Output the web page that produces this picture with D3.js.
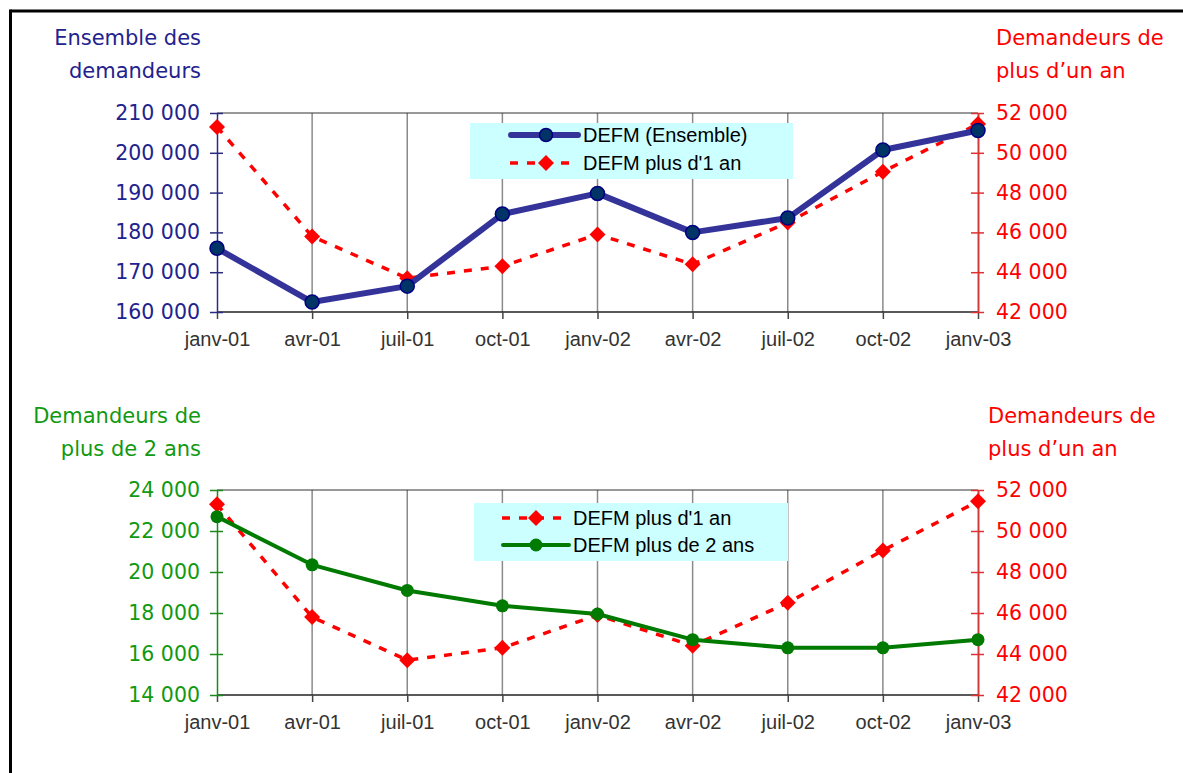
<!DOCTYPE html>
<html>
<head>
<meta charset="utf-8">
<script src="https://cdn.jsdelivr.net/npm/d3@7"></script>
<style>
  html, body { margin: 0; padding: 0; background: #fff; }
  svg { display: block; }
</style>
</head>
<body>
<svg id="chart" width="1183" height="773"></svg>
<script>
// Monthly series, January 2001 to January 2003 (quarterly)
const months = ["janv-01", "avr-01", "juil-01", "oct-01", "janv-02", "avr-02", "juil-02", "oct-02", "janv-03"];
const defmEnsemble = [176000, 162500, 166500, 184600, 189800, 180000, 183600, 200700, 205600];
const defmPlus1An = [51300, 45800, 43700, 44300, 45900, 44400, 46500, 49050, 51450];
const defmPlus2Ans = [22700, 20350, 19100, 18350, 17950, 16700, 16300, 16300, 16700];

const ensembleTicks = [160000, 170000, 180000, 190000, 200000, 210000];
const plus1AnTicks = [42000, 44000, 46000, 48000, 50000, 52000];
const plus2AnsTicks = [14000, 16000, 18000, 20000, 22000, 24000];

const svg = d3.select("#chart");
const fmt = v => d3.format(",")(v).replace(/,/g, " ");

const NAVY = "#333399", NAVY_TXT = "#22228e", RED = "#ff0000", GREEN = "#007a00", GREEN_TXT = "#119911";
const numFont = "'DejaVu Sans', Verdana, sans-serif";
const catFont = "'Liberation Sans', Arial, sans-serif";

// outer frame (top and left edges)
svg.append("line").attr("x1", 10.5).attr("x2", 1183).attr("y1", 11).attr("y2", 11)
  .attr("stroke", "#000").attr("stroke-width", 3);
svg.append("line").attr("x1", 10.5).attr("x2", 10.5).attr("y1", 9.5).attr("y2", 773)
  .attr("stroke", "#000").attr("stroke-width", 3);

function diamond(g, x, y, r, color) {
  g.append("path")
    .attr("d", `M${x},${y - r}L${x + r},${y}L${x},${y + r}L${x - r},${y}Z`)
    .attr("fill", color);
}

function panel(cfg) {
  const g = svg.append("g");
  const x = d3.scalePoint().domain(months).range([217, 978]);
  const yL = d3.scaleLinear().domain(cfg.leftDomain).range([cfg.bottom, cfg.top]);
  const yR = d3.scaleLinear().domain(cfg.rightDomain).range([cfg.bottom, cfg.top]);

  // vertical gridlines
  g.selectAll(".grid").data(months.slice(1, -1)).join("line")
    .attr("x1", d => x(d)).attr("x2", d => x(d))
    .attr("y1", cfg.top).attr("y2", cfg.bottom)
    .attr("stroke", "#8a8a8a").attr("stroke-width", 1.5);
  // top border of plot
  g.append("line").attr("x1", 217).attr("x2", 978).attr("y1", cfg.top).attr("y2", cfg.top)
    .attr("stroke", "#333").attr("stroke-width", 1);

  // x axis
  const xa = g.append("g").attr("transform", `translate(0,${cfg.bottom})`)
    .call(d3.axisBottom(x).tickSize(7).tickPadding(13));
  xa.select(".domain").attr("d", "M217,0H978").attr("stroke", "#222").attr("stroke-width", 1.5);
  xa.selectAll(".tick line").attr("stroke", "#444").attr("stroke-width", 1.5);
  xa.selectAll(".tick text").attr("fill", "#333").attr("font-size", 20).attr("font-family", catFont);

  // left axis
  const la = g.append("g").attr("transform", "translate(217,0)")
    .call(d3.axisLeft(yL).tickValues(cfg.leftTicks).tickFormat(fmt).tickSize(0).tickPadding(17));
  la.select(".domain").attr("stroke", cfg.leftLine).attr("stroke-width", 1.5);
  la.selectAll(".tick line").attr("x1", -7).attr("x2", 6).attr("stroke", cfg.leftLine).attr("stroke-width", 1.5);
  la.selectAll(".tick text").attr("fill", cfg.leftColor).attr("font-size", 20.5).attr("font-family", numFont);

  // right axis
  const ra = g.append("g").attr("transform", "translate(978,0)")
    .call(d3.axisRight(yR).tickValues(cfg.rightTicks).tickFormat(fmt).tickSize(0).tickPadding(18));
  ra.select(".domain").attr("stroke", "#d03a3a").attr("stroke-width", 2);
  ra.selectAll(".tick line").attr("x1", -7).attr("x2", 6).attr("stroke", "#e03030").attr("stroke-width", 1.5);
  ra.selectAll(".tick text").attr("fill", RED).attr("font-size", 20.5).attr("font-family", numFont);

  // axis titles
  const tl = g.append("text").attr("text-anchor", "end").attr("fill", cfg.leftColor)
    .attr("font-size", 21).attr("font-family", numFont);
  tl.append("tspan").attr("x", 201).attr("y", cfg.titleY).text(cfg.leftTitle[0]);
  tl.append("tspan").attr("x", 201).attr("y", cfg.titleY + 33).text(cfg.leftTitle[1]);
  const tr = g.append("text").attr("fill", RED).attr("font-size", 21).attr("font-family", numFont);
  tr.append("tspan").attr("x", cfg.rightTitleX).attr("y", cfg.titleY).text("Demandeurs de");
  tr.append("tspan").attr("x", cfg.rightTitleX).attr("y", cfg.titleY + 33).text("plus d\u2019un an");

  return { g, x, yL, yR };
}

function redSeries(p) {
  const line = d3.line().x((d, i) => p.x(months[i])).y(d => p.yR(d));
  p.g.append("path").datum(defmPlus1An).attr("d", line)
    .attr("fill", "none").attr("stroke", RED).attr("stroke-width", 3.5).attr("stroke-dasharray", "8,9");
  defmPlus1An.forEach((d, i) => diamond(p.g, p.x(months[i]), p.yR(d), 8, RED));
}

// ---------- upper panel: total job seekers vs. those registered over one year ----------
const upper = panel({
  top: 113, bottom: 312,
  leftDomain: [160000, 210000], leftTicks: ensembleTicks,
  rightDomain: [42000, 52000], rightTicks: plus1AnTicks,
  leftColor: NAVY_TXT, leftLine: "#2a2a80",
  leftTitle: ["Ensemble des", "demandeurs"], titleY: 45, rightTitleX: 996
});

// legend (upper)
const lg1 = upper.g.append("g");
lg1.append("rect").attr("x", 470).attr("y", 123).attr("width", 323).attr("height", 56).attr("fill", "#ccffff");
lg1.append("line").attr("x1", 511).attr("x2", 578).attr("y1", 135).attr("y2", 135)
  .attr("stroke", NAVY).attr("stroke-width", 6).attr("stroke-linecap", "round");
lg1.append("circle").attr("cx", 546).attr("cy", 135).attr("r", 6.5)
  .attr("fill", "#003366").attr("stroke", "#000080").attr("stroke-width", 1.5);
lg1.append("line").attr("x1", 510).attr("x2", 578).attr("y1", 163).attr("y2", 163)
  .attr("stroke", RED).attr("stroke-width", 3.5).attr("stroke-dasharray", "8,9").attr("stroke-dashoffset", 0);
diamond(lg1, 546, 163, 8, RED);
lg1.selectAll("text").data(["DEFM (Ensemble)", "DEFM plus d'1 an"]).join("text")
  .attr("x", 583).attr("y", (d, i) => 142 + i * 28).text(d => d)
  .attr("font-size", 20).attr("font-family", catFont).attr("fill", "#000");

redSeries(upper);
const lineE = d3.line().x((d, i) => upper.x(months[i])).y(d => upper.yL(d));
upper.g.append("path").datum(defmEnsemble).attr("d", lineE)
  .attr("fill", "none").attr("stroke", NAVY).attr("stroke-width", 6).attr("stroke-linejoin", "round");
upper.g.selectAll(".pt").data(defmEnsemble).join("circle")
  .attr("cx", (d, i) => upper.x(months[i])).attr("cy", d => upper.yL(d)).attr("r", 7)
  .attr("fill", "#003366").attr("stroke", "#000080").attr("stroke-width", 1.5);

// ---------- lower panel: over one year vs. over two years ----------
const lower = panel({
  top: 490, bottom: 695,
  leftDomain: [14000, 24000], leftTicks: plus2AnsTicks,
  rightDomain: [42000, 52000], rightTicks: plus1AnTicks,
  leftColor: GREEN_TXT, leftLine: "#1a8a1a",
  leftTitle: ["Demandeurs de", "plus de 2 ans"], titleY: 423, rightTitleX: 988
});

// legend (lower)
const lg2 = lower.g.append("g");
lg2.append("rect").attr("x", 474).attr("y", 503).attr("width", 314).attr("height", 58).attr("fill", "#ccffff");
lg2.append("line").attr("x1", 502).attr("x2", 570).attr("y1", 518).attr("y2", 518)
  .attr("stroke", RED).attr("stroke-width", 3.5).attr("stroke-dasharray", "8,9");
diamond(lg2, 536, 518, 8, RED);
lg2.append("line").attr("x1", 503).attr("x2", 569).attr("y1", 545).attr("y2", 545)
  .attr("stroke", GREEN).attr("stroke-width", 4).attr("stroke-linecap", "round");
lg2.append("circle").attr("cx", 536).attr("cy", 545).attr("r", 6.5).attr("fill", GREEN);
lg2.selectAll("text").data(["DEFM plus d'1 an", "DEFM plus de 2 ans"]).join("text")
  .attr("x", 573).attr("y", (d, i) => 525 + i * 27).text(d => d)
  .attr("font-size", 20).attr("font-family", catFont).attr("fill", "#000");

redSeries(lower);
const line2 = d3.line().x((d, i) => lower.x(months[i])).y(d => lower.yL(d));
lower.g.append("path").datum(defmPlus2Ans).attr("d", line2)
  .attr("fill", "none").attr("stroke", GREEN).attr("stroke-width", 4).attr("stroke-linejoin", "round");
lower.g.selectAll(".pt").data(defmPlus2Ans).join("circle")
  .attr("cx", (d, i) => lower.x(months[i])).attr("cy", d => lower.yL(d)).attr("r", 6.5)
  .attr("fill", GREEN);
</script>
</body>
</html>
